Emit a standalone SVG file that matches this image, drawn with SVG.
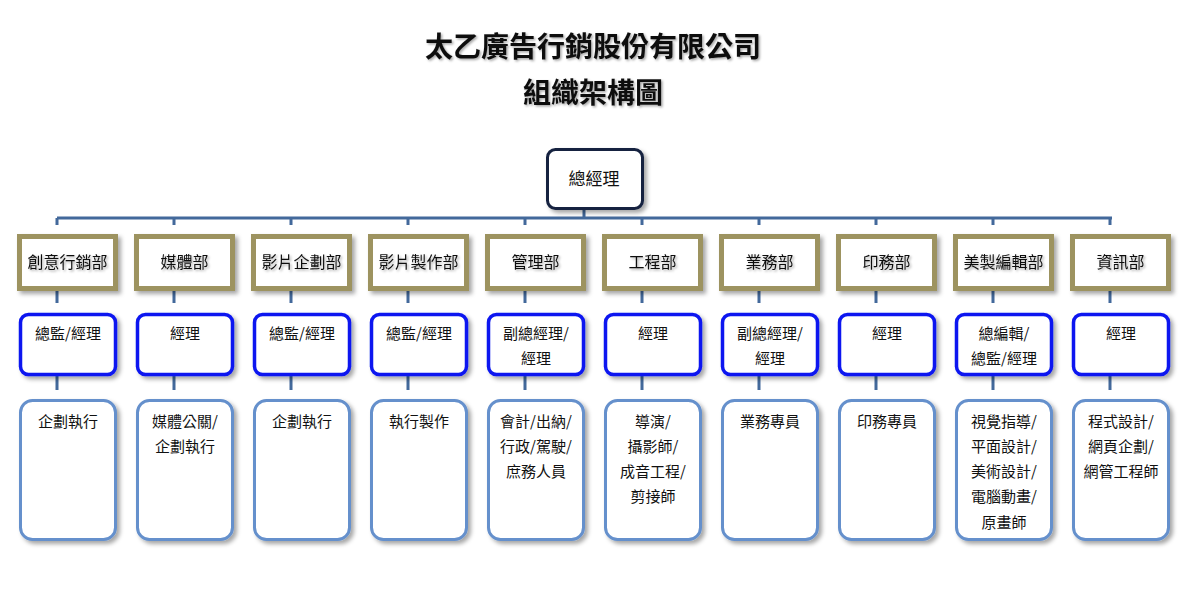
<svg xmlns="http://www.w3.org/2000/svg" width="1189" height="602" viewBox="0 0 1189 602">
<style>
text{font-family:"Noto Sans CJK TC","Noto Sans CJK SC",sans-serif;fill:#111;text-anchor:middle}
.title{font-size:28px;font-weight:bold}
.dept-t{font-size:16px}
.t{font-size:15px}
.ceo{fill:#fff;stroke:#13213f;stroke-width:3}
.dept{fill:#fff;stroke:#9d9360;stroke-width:5}
.mgr{fill:#fff;stroke:#0a18f0;stroke-width:3.5}
.staff{fill:#fff;stroke:#6590cc;stroke-width:3}
.conn{stroke:#43699b;stroke-width:3;fill:none}
</style>
<defs>
<filter id="sh" x="-20%" y="-20%" width="150%" height="150%">
<feDropShadow dx="3" dy="3" stdDeviation="2" flood-color="#000" flood-opacity="0.35"/>
</filter>
<filter id="tsh" x="-10%" y="-30%" width="130%" height="160%">
<feDropShadow dx="1.5" dy="1.5" stdDeviation="0.8" flood-color="#000" flood-opacity="0.35"/>
</filter>
</defs>
<rect width="1189" height="602" fill="#fff"/>
<g id="title" filter="url(#tsh)">
<text class="title" x="593" y="57">太乙廣告行銷股份有限公司</text>
<text class="title" x="593" y="103">組織架構圖</text>
</g>
<g id="connectors">
<path class="conn" d="M584 210V218M57 218H1112M57 218v7M174 218v7M291 218v7M408 218v7M525 218v7M642 218v7M759 218v7M876 218v7M993 218v7M1110 218v7"/>
<path class="conn" d="M57 291v12M174 291v12M291 291v12M408 291v12M525 291v12M642 291v12M759 291v12M876 291v12M993 291v12M1110 291v12"/>
<path class="conn" d="M57 376v14M174 376v14M291 376v14M408 376v14M525 376v14M642 376v14M759 376v14M876 376v14M993 376v14M1110 376v14"/>
</g>
<g id="ceo"><rect class="ceo" x="547.5" y="149.5" width="95" height="59" rx="8" filter="url(#sh)"/><text x="594" y="185" style="font-size:17px">總經理</text></g>

<g id="d1"><rect class="dept" x="19.5" y="236.5" width="96" height="52" filter="url(#sh)"/><text class="dept-t" x="67.5" y="268" filter="url(#tsh)">創意行銷部</text></g>
<g id="m1"><rect class="mgr" x="20.5" y="314.5" width="95" height="60" rx="8" filter="url(#sh)"/><text class="t" x="68" y="339">總監/經理</text></g>
<g id="s1"><rect class="staff" x="20.5" y="400.5" width="95" height="139" rx="12" filter="url(#sh)"/><text class="t" x="68" y="427">企劃執行</text></g>

<g id="d2"><rect class="dept" x="136.5" y="236.5" width="96" height="52" filter="url(#sh)"/><text class="dept-t" x="184.5" y="268" filter="url(#tsh)">媒體部</text></g>
<g id="m2"><rect class="mgr" x="137.5" y="314.5" width="95" height="60" rx="8" filter="url(#sh)"/><text class="t" x="185" y="339">經理</text></g>
<g id="s2"><rect class="staff" x="137.5" y="400.5" width="95" height="139" rx="12" filter="url(#sh)"/><text class="t" x="185" y="427">媒體公關/</text><text class="t" x="185" y="452">企劃執行</text></g>

<g id="d3"><rect class="dept" x="253.5" y="236.5" width="96" height="52" filter="url(#sh)"/><text class="dept-t" x="301.5" y="268" filter="url(#tsh)">影片企劃部</text></g>
<g id="m3"><rect class="mgr" x="254.5" y="314.5" width="95" height="60" rx="8" filter="url(#sh)"/><text class="t" x="302" y="339">總監/經理</text></g>
<g id="s3"><rect class="staff" x="254.5" y="400.5" width="95" height="139" rx="12" filter="url(#sh)"/><text class="t" x="302" y="427">企劃執行</text></g>

<g id="d4"><rect class="dept" x="370.5" y="236.5" width="96" height="52" filter="url(#sh)"/><text class="dept-t" x="418.5" y="268" filter="url(#tsh)">影片製作部</text></g>
<g id="m4"><rect class="mgr" x="371.5" y="314.5" width="95" height="60" rx="8" filter="url(#sh)"/><text class="t" x="419" y="339">總監/經理</text></g>
<g id="s4"><rect class="staff" x="371.5" y="400.5" width="95" height="139" rx="12" filter="url(#sh)"/><text class="t" x="419" y="427">執行製作</text></g>

<g id="d5"><rect class="dept" x="487.5" y="236.5" width="96" height="52" filter="url(#sh)"/><text class="dept-t" x="535.5" y="268" filter="url(#tsh)">管理部</text></g>
<g id="m5"><rect class="mgr" x="488.5" y="314.5" width="95" height="60" rx="8" filter="url(#sh)"/><text class="t" x="536" y="339">副總經理/</text><text class="t" x="536" y="364">經理</text></g>
<g id="s5"><rect class="staff" x="488.5" y="400.5" width="95" height="139" rx="12" filter="url(#sh)"/><text class="t" x="536" y="427">會計/出納/</text><text class="t" x="536" y="452">行政/駕駛/</text><text class="t" x="536" y="477">庶務人員</text></g>

<g id="d6"><rect class="dept" x="604.5" y="236.5" width="96" height="52" filter="url(#sh)"/><text class="dept-t" x="652.5" y="268" filter="url(#tsh)">工程部</text></g>
<g id="m6"><rect class="mgr" x="605.5" y="314.5" width="95" height="60" rx="8" filter="url(#sh)"/><text class="t" x="653" y="339">經理</text></g>
<g id="s6"><rect class="staff" x="605.5" y="400.5" width="95" height="139" rx="12" filter="url(#sh)"/><text class="t" x="653" y="427">導演/</text><text class="t" x="653" y="452">攝影師/</text><text class="t" x="653" y="477">成音工程/</text><text class="t" x="653" y="502">剪接師</text></g>

<g id="d7"><rect class="dept" x="721.5" y="236.5" width="96" height="52" filter="url(#sh)"/><text class="dept-t" x="769.5" y="268" filter="url(#tsh)">業務部</text></g>
<g id="m7"><rect class="mgr" x="722.5" y="314.5" width="95" height="60" rx="8" filter="url(#sh)"/><text class="t" x="770" y="339">副總經理/</text><text class="t" x="770" y="364">經理</text></g>
<g id="s7"><rect class="staff" x="722.5" y="400.5" width="95" height="139" rx="12" filter="url(#sh)"/><text class="t" x="770" y="427">業務專員</text></g>

<g id="d8"><rect class="dept" x="838.5" y="236.5" width="96" height="52" filter="url(#sh)"/><text class="dept-t" x="886.5" y="268" filter="url(#tsh)">印務部</text></g>
<g id="m8"><rect class="mgr" x="839.5" y="314.5" width="95" height="60" rx="8" filter="url(#sh)"/><text class="t" x="887" y="339">經理</text></g>
<g id="s8"><rect class="staff" x="839.5" y="400.5" width="95" height="139" rx="12" filter="url(#sh)"/><text class="t" x="887" y="427">印務專員</text></g>

<g id="d9"><rect class="dept" x="955.5" y="236.5" width="96" height="52" filter="url(#sh)"/><text class="dept-t" x="1003.5" y="268" filter="url(#tsh)">美製編輯部</text></g>
<g id="m9"><rect class="mgr" x="956.5" y="314.5" width="95" height="60" rx="8" filter="url(#sh)"/><text class="t" x="1004" y="339">總編輯/</text><text class="t" x="1004" y="364">總監/經理</text></g>
<g id="s9"><rect class="staff" x="956.5" y="400.5" width="95" height="139" rx="12" filter="url(#sh)"/><text class="t" x="1004" y="427">視覺指導/</text><text class="t" x="1004" y="452">平面設計/</text><text class="t" x="1004" y="477">美術設計/</text><text class="t" x="1004" y="502">電腦動畫/</text><text class="t" x="1004" y="528">原畫師</text></g>

<g id="d10"><rect class="dept" x="1072.5" y="236.5" width="96" height="52" filter="url(#sh)"/><text class="dept-t" x="1120.5" y="268" filter="url(#tsh)">資訊部</text></g>
<g id="m10"><rect class="mgr" x="1073.5" y="314.5" width="95" height="60" rx="8" filter="url(#sh)"/><text class="t" x="1121" y="339">經理</text></g>
<g id="s10"><rect class="staff" x="1073.5" y="400.5" width="95" height="139" rx="12" filter="url(#sh)"/><text class="t" x="1121" y="427">程式設計/</text><text class="t" x="1121" y="452">網頁企劃/</text><text class="t" x="1121" y="477">網管工程師</text></g>
</svg>
